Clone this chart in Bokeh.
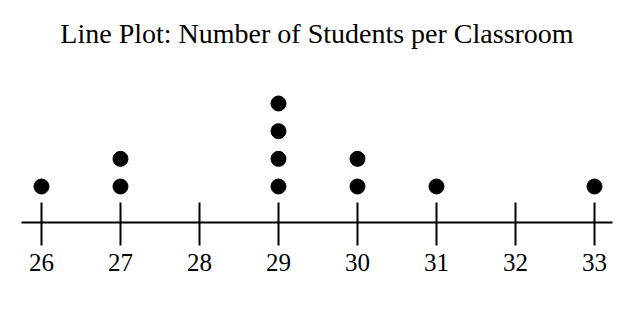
from bokeh.plotting import figure
from bokeh.models import Range1d, FixedTicker
from bokeh.embed import file_html
from bokeh.resources import INLINE

# Data
students = [26, 27, 28, 29, 30, 31, 32, 33]
classrooms = [1, 2, 0, 4, 2, 1, 0, 1]
tick_labels = {26: "26", 27: "27", 28: "28", 29: "29", 30: "30", 31: "31", 32: "32", 33: "33"}
title_text = "Line Plot: Number of Students per Classroom"

xs, ys = [], []
for s, c in zip(students, classrooms):
    for k in range(1, c + 1):
        xs.append(s)
        ys.append(k)

p = figure(width=640, height=312, output_backend="svg", toolbar_location=None,
           x_range=Range1d(25.747, 33.228), y_range=Range1d(-0.301, 5.915),
           min_border_left=21, min_border_right=28, min_border_top=50,
           min_border_bottom=90, y_axis_location=None,
           background_fill_color="white", border_fill_color="white")
p.outline_line_color = None
p.grid.visible = False

p.title.text = title_text
p.title.align = "center"
p.title.text_font = "Liberation Serif"
p.title.text_font_size = "28px"
p.title.text_font_style = "normal"
p.title.text_color = "black"
p.title.standoff = 4
p.title.offset = -4

ax = p.xaxis[0]
ax.ticker = FixedTicker(ticks=students)
ax.major_label_overrides = tick_labels
ax.axis_line_width = 2
ax.axis_line_color = "black"
ax.major_tick_line_width = 2
ax.major_tick_line_color = "black"
ax.major_tick_in = 20
ax.major_tick_out = 23
ax.minor_tick_line_color = None
ax.major_label_text_font = "Liberation Serif"
ax.major_label_text_font_size = "25px"
ax.major_label_text_color = "black"
ax.major_label_standoff = 8

p.scatter(xs, ys, size=15, color="black", marker="circle")

open("out.html", "w").write(file_html(p, INLINE))
